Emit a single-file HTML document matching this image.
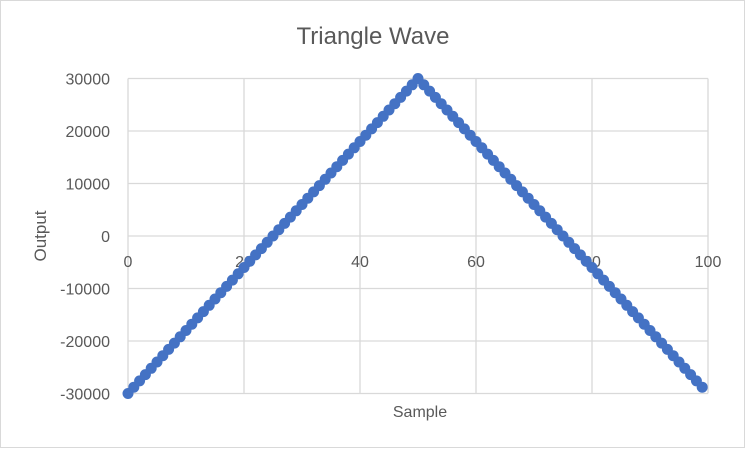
<!DOCTYPE html>
<html><head><meta charset="utf-8"><style>
body{margin:0;background:#fff}
svg{display:block;font-family:"Liberation Sans",Calibri,sans-serif}
</style></head><body>
<svg id="chart" width="746" height="449">
<rect x="0.5" y="0.5" width="744" height="447" fill="#fff" stroke="#d9d9d9"/>
<text x="373" y="44" text-anchor="middle" font-size="24" fill="#595959">Triangle Wave</text>
<g id="grid"></g>
<g id="ylabels"></g>
<g id="xlabels"></g>
<g id="series"></g>
<text x="420" y="417" text-anchor="middle" font-size="16" fill="#595959">Sample</text>
<text transform="translate(46,236) rotate(-90)" text-anchor="middle" font-size="17" fill="#595959">Output</text>
</svg>
<script>
const xTicks=[0,20,40,60,80,100];
const yTicks=[30000,20000,10000,0,-10000,-20000,-30000];
const values=[-30000,-28800,-27600,-26400,-25200,-24000,-22800,-21600,-20400,-19200,-18000,-16800,-15600,-14400,-13200,-12000,-10800,-9600,-8400,-7200,-6000,-4800,-3600,-2400,-1200,0,1200,2400,3600,4800,6000,7200,8400,9600,10800,12000,13200,14400,15600,16800,18000,19200,20400,21600,22800,24000,25200,26400,27600,28800,30000,28800,27600,26400,25200,24000,22800,21600,20400,19200,18000,16800,15600,14400,13200,12000,10800,9600,8400,7200,6000,4800,3600,2400,1200,0,-1200,-2400,-3600,-4800,-6000,-7200,-8400,-9600,-10800,-12000,-13200,-14400,-15600,-16800,-18000,-19200,-20400,-21600,-22800,-24000,-25200,-26400,-27600,-28800];
const NS='http://www.w3.org/2000/svg';
const X=v=>128+v*(708-128)/100;
const Y=v=>236-v*(315/60000);
function mk(t,a,p){const e=document.createElementNS(NS,t);for(const k in a)e.setAttribute(k,a[k]);p.appendChild(e);return e;}
const grid=document.getElementById('grid'),yl=document.getElementById('ylabels'),xl=document.getElementById('xlabels'),ser=document.getElementById('series');
yTicks.forEach(v=>{
 const l=mk('line',{x1:X(0),x2:X(100),y1:Y(v),y2:Y(v),stroke:'#d9d9d9','stroke-width':1.3},grid);
 
 
 const t=mk('text',{x:110,y:Y(v)+6,'text-anchor':'end','font-size':16,fill:'#595959'},yl);
 t.textContent=v;
 
 
});
xTicks.forEach(v=>{
 const l=mk('line',{x1:X(v),x2:X(v),y1:Y(30000),y2:Y(-30000),stroke:'#d9d9d9','stroke-width':1.3},grid);
 
 
 const t=mk('text',{x:X(v),y:267,'text-anchor':'middle','font-size':16,fill:'#595959'},xl);
 t.textContent=v;
 
 
});
const pl=mk('polyline',{points:values.map((v,i)=>X(i)+','+Y(v)).join(' '),fill:'none',stroke:'#4472c4','stroke-width':3},ser);


values.forEach((v,i)=>{
 const c=mk('circle',{cx:X(i),cy:Y(v),r:5.5,fill:'#4472c4'},ser);
 
 
});
</script>
</body></html>
